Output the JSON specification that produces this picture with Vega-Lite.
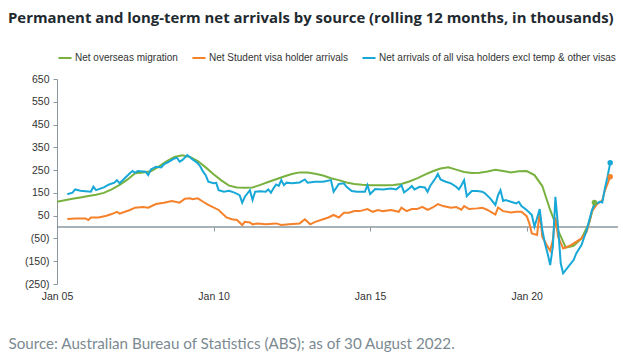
{
  "$schema": "https://vega.github.io/schema/vega-lite/v6.json",
  "width": 561,
  "height": 205,
  "autosize": {"type": "none"},
  "padding": {"left": 57, "top": 79, "right": 5, "bottom": 73},
  "background": "white",
  "title": {
    "text": "Permanent and long-term net arrivals by source (rolling 12 months, in thousands)",
    "anchor": "start",
    "frame": "group",
    "dx": -49,
    "offset": 24,
    "font": "Open Sans",
    "fontSize": 14.9,
    "fontWeight": "bold",
    "color": "#1f2a30"
  },
  "config": {
    "view": {"stroke": null},
    "axis": {"grid": false, "labelFont": "Liberation Sans", "labelFontSize": 10.5, "labelColor": "#333333", "labelOverlap": false, "labelFlush": false},
    "legend": {"labelFont": "Liberation Sans", "labelFontSize": 10, "labelColor": "#333333", "labelLimit": 0}
  },
  "data": {
    "format": {"parse": {"d": "date"}},
    "values": [
      {"s":"NOM","d":"2005-01-01","v":111},{"s":"NOM","d":"2005-04-01","v":118},{"s":"NOM","d":"2005-07-01","v":124},{"s":"NOM","d":"2005-10-01","v":130},
      {"s":"NOM","d":"2006-01-01","v":136},{"s":"NOM","d":"2006-04-01","v":142},{"s":"NOM","d":"2006-07-01","v":150},{"s":"NOM","d":"2006-10-01","v":165},
      {"s":"NOM","d":"2007-01-01","v":185},{"s":"NOM","d":"2007-04-01","v":208},{"s":"NOM","d":"2007-07-01","v":236},{"s":"NOM","d":"2007-10-01","v":240},
      {"s":"NOM","d":"2008-01-01","v":245},{"s":"NOM","d":"2008-04-01","v":265},{"s":"NOM","d":"2008-07-01","v":288},{"s":"NOM","d":"2008-10-01","v":308},
      {"s":"NOM","d":"2009-01-01","v":315},{"s":"NOM","d":"2009-04-01","v":308},{"s":"NOM","d":"2009-07-01","v":290},{"s":"NOM","d":"2009-10-01","v":262},
      {"s":"NOM","d":"2010-01-01","v":232},{"s":"NOM","d":"2010-04-01","v":205},{"s":"NOM","d":"2010-07-01","v":182},{"s":"NOM","d":"2010-10-01","v":174},
      {"s":"NOM","d":"2011-01-01","v":173},{"s":"NOM","d":"2011-04-01","v":174},{"s":"NOM","d":"2011-07-01","v":185},{"s":"NOM","d":"2011-10-01","v":198},
      {"s":"NOM","d":"2012-01-01","v":210},{"s":"NOM","d":"2012-04-01","v":222},{"s":"NOM","d":"2012-07-01","v":233},{"s":"NOM","d":"2012-10-01","v":240},
      {"s":"NOM","d":"2013-01-01","v":239},{"s":"NOM","d":"2013-04-01","v":234},{"s":"NOM","d":"2013-07-01","v":226},{"s":"NOM","d":"2013-10-01","v":214},
      {"s":"NOM","d":"2014-01-01","v":206},{"s":"NOM","d":"2014-04-01","v":196},{"s":"NOM","d":"2014-07-01","v":189},{"s":"NOM","d":"2014-10-01","v":186},
      {"s":"NOM","d":"2015-01-01","v":184},{"s":"NOM","d":"2015-04-01","v":183},{"s":"NOM","d":"2015-07-01","v":184},{"s":"NOM","d":"2015-10-01","v":185},
      {"s":"NOM","d":"2016-01-01","v":189},{"s":"NOM","d":"2016-04-01","v":200},{"s":"NOM","d":"2016-07-01","v":214},{"s":"NOM","d":"2016-10-01","v":230},
      {"s":"NOM","d":"2017-01-01","v":245},{"s":"NOM","d":"2017-04-01","v":257},{"s":"NOM","d":"2017-07-01","v":262},{"s":"NOM","d":"2017-10-01","v":252},
      {"s":"NOM","d":"2018-01-01","v":242},{"s":"NOM","d":"2018-04-01","v":237},{"s":"NOM","d":"2018-07-01","v":238},{"s":"NOM","d":"2018-10-01","v":244},
      {"s":"NOM","d":"2019-01-01","v":252},{"s":"NOM","d":"2019-04-01","v":246},{"s":"NOM","d":"2019-07-01","v":240},{"s":"NOM","d":"2019-10-01","v":245},
      {"s":"NOM","d":"2020-01-01","v":246},{"s":"NOM","d":"2020-04-01","v":228},{"s":"NOM","d":"2020-07-01","v":180},{"s":"NOM","d":"2020-10-01","v":75},
      {"s":"NOM","d":"2021-01-01","v":-15},{"s":"NOM","d":"2021-04-01","v":-90},{"s":"NOM","d":"2021-07-01","v":-82},{"s":"NOM","d":"2021-10-01","v":-50},
      {"s":"NOM","d":"2022-01-01","v":20},{"s":"NOM","d":"2022-03-01","v":108},

      {"s":"Student","d":"2005-05-01","v":35},{"s":"Student","d":"2005-08-01","v":38},{"s":"Student","d":"2005-12-01","v":38},{"s":"Student","d":"2006-01-01","v":31},
      {"s":"Student","d":"2006-02-01","v":42},{"s":"Student","d":"2006-05-01","v":42},{"s":"Student","d":"2006-08-01","v":50},{"s":"Student","d":"2006-10-01","v":57},
      {"s":"Student","d":"2006-12-01","v":67},{"s":"Student","d":"2007-01-01","v":59},{"s":"Student","d":"2007-05-01","v":75},{"s":"Student","d":"2007-07-01","v":85},
      {"s":"Student","d":"2007-10-01","v":88},{"s":"Student","d":"2007-12-01","v":85},{"s":"Student","d":"2008-03-01","v":101},{"s":"Student","d":"2008-06-01","v":107},
      {"s":"Student","d":"2008-09-01","v":114},{"s":"Student","d":"2008-12-01","v":107},{"s":"Student","d":"2009-02-01","v":124},{"s":"Student","d":"2009-04-01","v":126},
      {"s":"Student","d":"2009-05-01","v":122},{"s":"Student","d":"2009-07-01","v":126},{"s":"Student","d":"2009-09-01","v":111},{"s":"Student","d":"2009-11-01","v":97},
      {"s":"Student","d":"2010-03-01","v":75},{"s":"Student","d":"2010-06-01","v":42},{"s":"Student","d":"2010-08-01","v":34},{"s":"Student","d":"2010-10-01","v":31},
      {"s":"Student","d":"2010-12-01","v":9},{"s":"Student","d":"2011-01-01","v":23},{"s":"Student","d":"2011-03-01","v":20},{"s":"Student","d":"2011-04-01","v":12},
      {"s":"Student","d":"2011-06-01","v":16},{"s":"Student","d":"2011-09-01","v":12},{"s":"Student","d":"2012-01-01","v":16},{"s":"Student","d":"2012-03-01","v":9},
      {"s":"Student","d":"2012-06-01","v":12},{"s":"Student","d":"2012-10-01","v":16},{"s":"Student","d":"2012-12-01","v":34},{"s":"Student","d":"2013-02-01","v":12},
      {"s":"Student","d":"2013-04-01","v":23},{"s":"Student","d":"2013-07-01","v":34},{"s":"Student","d":"2013-09-01","v":42},{"s":"Student","d":"2013-11-01","v":53},
      {"s":"Student","d":"2014-01-01","v":42},{"s":"Student","d":"2014-03-01","v":63},{"s":"Student","d":"2014-05-01","v":63},{"s":"Student","d":"2014-07-01","v":70},
      {"s":"Student","d":"2014-09-01","v":70},{"s":"Student","d":"2014-12-01","v":79},{"s":"Student","d":"2015-02-01","v":67},{"s":"Student","d":"2015-04-01","v":75},
      {"s":"Student","d":"2015-06-01","v":70},{"s":"Student","d":"2015-09-01","v":75},{"s":"Student","d":"2015-12-01","v":67},{"s":"Student","d":"2016-01-01","v":85},
      {"s":"Student","d":"2016-03-01","v":70},{"s":"Student","d":"2016-05-01","v":79},{"s":"Student","d":"2016-07-01","v":79},{"s":"Student","d":"2016-09-01","v":89},
      {"s":"Student","d":"2016-11-01","v":75},{"s":"Student","d":"2017-01-01","v":86},{"s":"Student","d":"2017-03-01","v":101},{"s":"Student","d":"2017-05-01","v":92},
      {"s":"Student","d":"2017-08-01","v":85},{"s":"Student","d":"2017-10-01","v":88},{"s":"Student","d":"2017-12-01","v":76},{"s":"Student","d":"2018-01-01","v":92},
      {"s":"Student","d":"2018-03-01","v":79},{"s":"Student","d":"2018-06-01","v":82},{"s":"Student","d":"2018-08-01","v":85},{"s":"Student","d":"2018-10-01","v":75},
      {"s":"Student","d":"2019-01-01","v":55},{"s":"Student","d":"2019-02-01","v":86},{"s":"Student","d":"2019-04-01","v":70},{"s":"Student","d":"2019-07-01","v":64},
      {"s":"Student","d":"2019-09-01","v":67},{"s":"Student","d":"2019-11-01","v":67},{"s":"Student","d":"2020-01-01","v":48},{"s":"Student","d":"2020-02-01","v":16},
      {"s":"Student","d":"2020-03-01","v":-28},{"s":"Student","d":"2020-05-01","v":-35},{"s":"Student","d":"2020-06-01","v":67},{"s":"Student","d":"2020-07-01","v":-43},
      {"s":"Student","d":"2020-09-01","v":-86},{"s":"Student","d":"2020-10-01","v":-104},{"s":"Student","d":"2020-11-01","v":-57},{"s":"Student","d":"2020-12-01","v":43},
      {"s":"Student","d":"2021-01-01","v":-43},{"s":"Student","d":"2021-03-01","v":-94},{"s":"Student","d":"2021-06-01","v":-79},{"s":"Student","d":"2021-10-01","v":-50},
      {"s":"Student","d":"2021-12-01","v":-21},{"s":"Student","d":"2022-02-01","v":70},{"s":"Student","d":"2022-04-01","v":100},{"s":"Student","d":"2022-06-01","v":118},
      {"s":"Student","d":"2022-07-01","v":160},{"s":"Student","d":"2022-08-01","v":190},{"s":"Student","d":"2022-09-01","v":221},

      {"s":"All","d":"2005-05-01","v":144},{"s":"All","d":"2005-07-01","v":151},{"s":"All","d":"2005-08-01","v":165},{"s":"All","d":"2005-10-01","v":159},
      {"s":"All","d":"2005-12-01","v":157},{"s":"All","d":"2006-02-01","v":155},{"s":"All","d":"2006-03-01","v":177},{"s":"All","d":"2006-04-01","v":162},
      {"s":"All","d":"2006-07-01","v":174},{"s":"All","d":"2006-09-01","v":187},{"s":"All","d":"2006-11-01","v":195},{"s":"All","d":"2006-12-01","v":206},
      {"s":"All","d":"2007-01-01","v":192},{"s":"All","d":"2007-03-01","v":214},{"s":"All","d":"2007-05-01","v":236},{"s":"All","d":"2007-06-01","v":246},
      {"s":"All","d":"2007-07-01","v":238},{"s":"All","d":"2007-08-01","v":246},{"s":"All","d":"2007-11-01","v":243},{"s":"All","d":"2007-12-01","v":228},
      {"s":"All","d":"2008-01-01","v":253},{"s":"All","d":"2008-03-01","v":265},{"s":"All","d":"2008-05-01","v":262},{"s":"All","d":"2008-06-01","v":275},
      {"s":"All","d":"2008-08-01","v":287},{"s":"All","d":"2008-10-01","v":301},{"s":"All","d":"2008-11-01","v":304},{"s":"All","d":"2008-12-01","v":287},
      {"s":"All","d":"2009-01-01","v":294},{"s":"All","d":"2009-03-01","v":316},{"s":"All","d":"2009-05-01","v":297},{"s":"All","d":"2009-07-01","v":280},
      {"s":"All","d":"2009-08-01","v":265},{"s":"All","d":"2009-09-01","v":243},{"s":"All","d":"2009-10-01","v":228},{"s":"All","d":"2009-11-01","v":199},
      {"s":"All","d":"2010-01-01","v":192},{"s":"All","d":"2010-02-01","v":194},{"s":"All","d":"2010-03-01","v":162},{"s":"All","d":"2010-05-01","v":155},
      {"s":"All","d":"2010-07-01","v":159},{"s":"All","d":"2010-09-01","v":151},{"s":"All","d":"2010-11-01","v":140},{"s":"All","d":"2010-12-01","v":107},
      {"s":"All","d":"2011-01-01","v":133},{"s":"All","d":"2011-03-01","v":162},{"s":"All","d":"2011-04-01","v":119},{"s":"All","d":"2011-05-01","v":155},
      {"s":"All","d":"2011-07-01","v":157},{"s":"All","d":"2011-09-01","v":155},{"s":"All","d":"2011-10-01","v":165},{"s":"All","d":"2011-11-01","v":151},
      {"s":"All","d":"2011-12-01","v":170},{"s":"All","d":"2012-01-01","v":187},{"s":"All","d":"2012-02-01","v":181},{"s":"All","d":"2012-03-01","v":206},
      {"s":"All","d":"2012-04-01","v":184},{"s":"All","d":"2012-05-01","v":195},{"s":"All","d":"2012-07-01","v":192},{"s":"All","d":"2012-10-01","v":196},
      {"s":"All","d":"2012-12-01","v":209},{"s":"All","d":"2013-01-01","v":195},{"s":"All","d":"2013-04-01","v":199},{"s":"All","d":"2013-07-01","v":199},
      {"s":"All","d":"2013-10-01","v":206},{"s":"All","d":"2013-11-01","v":155},{"s":"All","d":"2014-01-01","v":189},{"s":"All","d":"2014-03-01","v":192},
      {"s":"All","d":"2014-04-01","v":177},{"s":"All","d":"2014-06-01","v":158},{"s":"All","d":"2014-08-01","v":155},{"s":"All","d":"2014-11-01","v":155},
      {"s":"All","d":"2014-12-01","v":184},{"s":"All","d":"2015-01-01","v":145},{"s":"All","d":"2015-03-01","v":167},{"s":"All","d":"2015-06-01","v":165},
      {"s":"All","d":"2015-09-01","v":169},{"s":"All","d":"2015-11-01","v":165},{"s":"All","d":"2016-01-01","v":184},{"s":"All","d":"2016-02-01","v":152},
      {"s":"All","d":"2016-04-01","v":169},{"s":"All","d":"2016-05-01","v":180},{"s":"All","d":"2016-06-01","v":165},{"s":"All","d":"2016-08-01","v":177},
      {"s":"All","d":"2016-10-01","v":174},{"s":"All","d":"2016-11-01","v":155},{"s":"All","d":"2016-12-01","v":180},{"s":"All","d":"2017-02-01","v":214},
      {"s":"All","d":"2017-03-01","v":233},{"s":"All","d":"2017-04-01","v":209},{"s":"All","d":"2017-06-01","v":199},{"s":"All","d":"2017-08-01","v":192},
      {"s":"All","d":"2017-10-01","v":177},{"s":"All","d":"2017-11-01","v":165},{"s":"All","d":"2017-12-01","v":184},{"s":"All","d":"2018-01-01","v":206},
      {"s":"All","d":"2018-02-01","v":136},{"s":"All","d":"2018-04-01","v":158},{"s":"All","d":"2018-06-01","v":158},{"s":"All","d":"2018-08-01","v":155},
      {"s":"All","d":"2018-09-01","v":148},{"s":"All","d":"2018-11-01","v":126},{"s":"All","d":"2019-01-01","v":97},{"s":"All","d":"2019-02-01","v":140},
      {"s":"All","d":"2019-03-01","v":162},{"s":"All","d":"2019-04-01","v":115},{"s":"All","d":"2019-05-01","v":119},{"s":"All","d":"2019-07-01","v":111},
      {"s":"All","d":"2019-09-01","v":104},{"s":"All","d":"2019-10-01","v":111},{"s":"All","d":"2019-11-01","v":92},{"s":"All","d":"2020-01-01","v":75},
      {"s":"All","d":"2020-03-01","v":53},{"s":"All","d":"2020-04-01","v":1},{"s":"All","d":"2020-06-01","v":79},{"s":"All","d":"2020-07-01","v":-13},
      {"s":"All","d":"2020-08-01","v":-72},{"s":"All","d":"2020-09-01","v":-116},{"s":"All","d":"2020-10-01","v":-167},{"s":"All","d":"2020-11-01","v":-86},
      {"s":"All","d":"2020-12-01","v":133},{"s":"All","d":"2021-01-01","v":1},{"s":"All","d":"2021-02-01","v":-159},{"s":"All","d":"2021-03-01","v":-203},
      {"s":"All","d":"2021-05-01","v":-174},{"s":"All","d":"2021-07-01","v":-145},{"s":"All","d":"2021-08-01","v":-116},{"s":"All","d":"2021-10-01","v":-79},
      {"s":"All","d":"2021-12-01","v":-13},{"s":"All","d":"2022-02-01","v":75},{"s":"All","d":"2022-03-01","v":97},{"s":"All","d":"2022-05-01","v":111},
      {"s":"All","d":"2022-06-01","v":108},{"s":"All","d":"2022-07-01","v":170},{"s":"All","d":"2022-08-01","v":221},{"s":"All","d":"2022-09-01","v":282}
    ]
  },
  "layer": [
    {
      "data": {"values": [{"z": 0}]},
      "mark": {"type": "rule", "color": "#8a99a1", "strokeWidth": 1.5},
      "encoding": {
        "y": {
          "field": "z", "type": "quantitative",
          "scale": {"domain": [-250, 650], "nice": false, "zero": false},
          "axis": {
            "values": [-250, -150, -50, 50, 150, 250, 350, 450, 550, 650],
            "labelExpr": "datum.value < 0 ? '(' + abs(datum.value) + ')' : '' + datum.value",
            "labelOverlap": false, "labelFlush": false,
            "domainColor": "#8a99a1", "tickColor": "#8a99a1", "tickSize": 4, "labelPadding": 4,
            "title": null
          }
        }
      }
    },
    {
      "mark": {"type": "line", "strokeWidth": 2},
      "encoding": {
        "x": {
          "field": "d", "type": "temporal",
          "scale": {"domain": [{"year": 2005, "month": 1, "date": 1}, {"year": 2022, "month": 12, "date": 1}]},
          "axis": {
            "orient": "bottom",
            "values": [{"year": 2005, "month": 1, "date": 1}, {"year": 2010, "month": 1, "date": 1}, {"year": 2015, "month": 1, "date": 1}, {"year": 2020, "month": 1, "date": 1}],
            "format": "%b %y",
            "domain": false, "ticks": false, "labelPadding": 7,
            "title": "Source: Australian Bureau of Statistics (ABS); as of 30 August 2022.",
            "titleFont": "Lato", "titleFontSize": 15.2, "titleFontWeight": "normal", "titleColor": "#7b8a91",
            "titleAlign": "left", "titleBaseline": "alphabetic", "titleX": -49, "titleY": 64
          }
        },
        "y": {
          "field": "v", "type": "quantitative",
          "axis": {
            "values": [-250, -150, -50, 50, 150, 250, 350, 450, 550, 650],
            "labelExpr": "datum.value < 0 ? '(' + abs(datum.value) + ')' : '' + datum.value",
            "labelOverlap": false, "labelFlush": false,
            "domainColor": "#8a99a1", "tickColor": "#8a99a1", "tickSize": 4, "labelPadding": 4,
            "title": null
          }
        },
        "color": {
          "field": "s", "type": "nominal",
          "scale": {"domain": ["NOM", "Student", "All"], "range": ["#78b13f", "#f5822a", "#18a8d8"]},
          "legend": {
            "orient": "top", "direction": "horizontal", "title": null,
            "symbolType": "stroke", "symbolStrokeWidth": 2, "symbolSize": 170,
            "columnPadding": 10, "labelOffset": 2, "offset": 16,
            "labelExpr": "datum.label == 'NOM' ? 'Net overseas migration' : datum.label == 'Student' ? 'Net Student visa holder arrivals' : 'Net arrivals of all visa holders excl temp & other visas'"
          }
        }
      }
    },
    {
      "transform": [
        {"joinaggregate": [{"op": "max", "field": "d", "as": "maxd"}], "groupby": ["s"]},
        {"filter": "time(datum.d) == time(datum.maxd)"}
      ],
      "mark": {"type": "point", "filled": true, "size": 30, "opacity": 1},
      "encoding": {
        "x": {
          "field": "d", "type": "temporal",
          "axis": {
            "orient": "bottom", "offset": -57,
            "values": [{"year": 2010, "month": 1, "date": 1}, {"year": 2015, "month": 1, "date": 1}, {"year": 2020, "month": 1, "date": 1}],
            "labels": false, "domain": false, "ticks": true, "tickSize": 4, "tickColor": "#8a99a1", "title": null
          }
        },
        "y": {
          "field": "v", "type": "quantitative",
          "axis": {
            "values": [-250, -150, -50, 50, 150, 250, 350, 450, 550, 650],
            "labelExpr": "datum.value < 0 ? '(' + abs(datum.value) + ')' : '' + datum.value",
            "labelOverlap": false, "labelFlush": false,
            "domainColor": "#8a99a1", "tickColor": "#8a99a1", "tickSize": 4, "labelPadding": 4,
            "title": null
          }
        },
        "color": {"field": "s", "type": "nominal", "legend": null}
      }
    }
  ],
  "resolve": {"axis": {"x": "independent"}}
}
